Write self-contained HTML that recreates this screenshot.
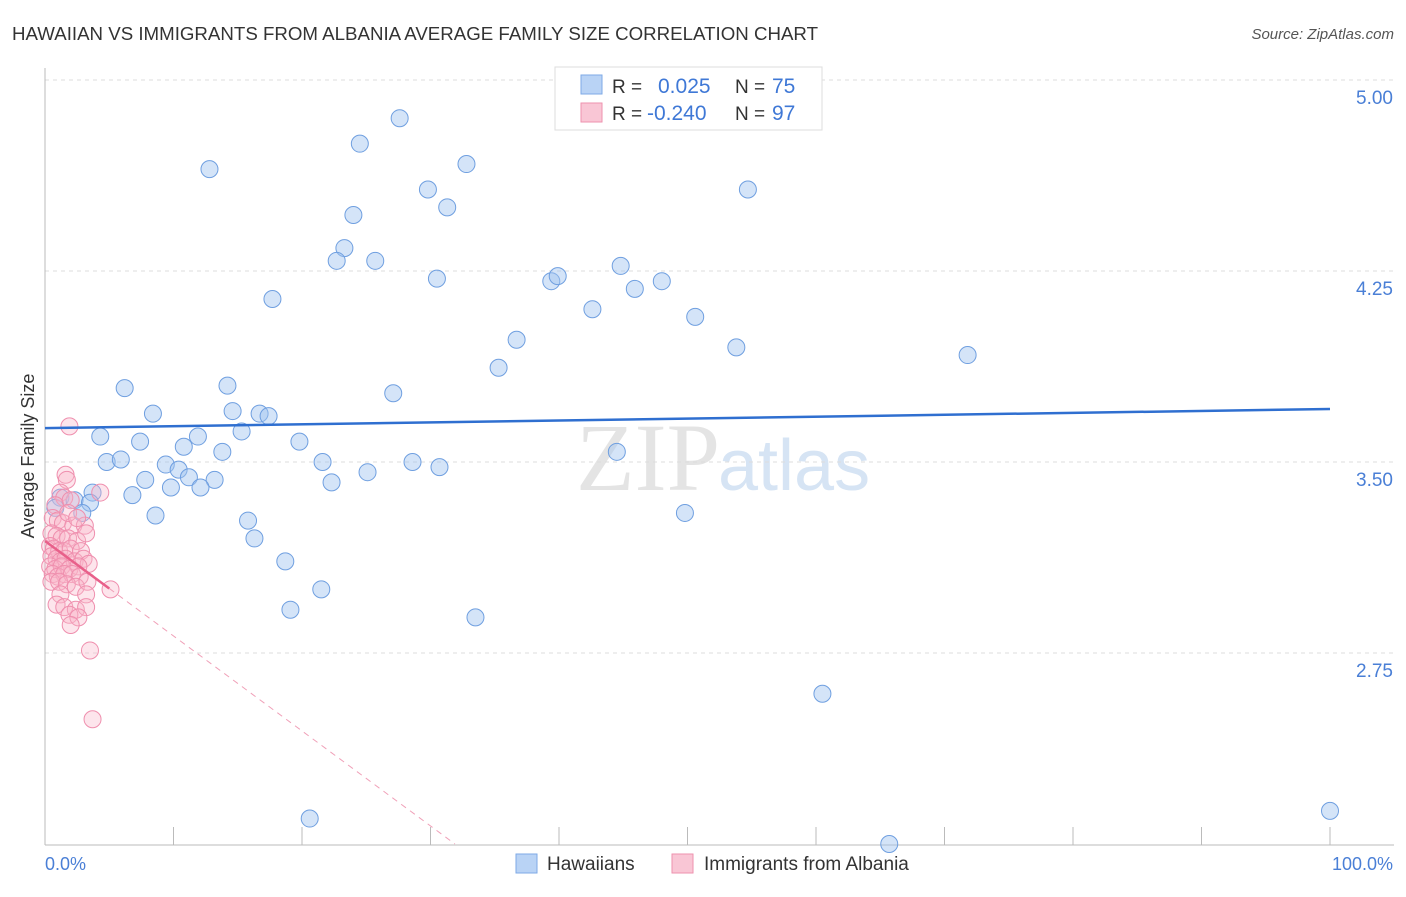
<!DOCTYPE html>
<html><head><meta charset="utf-8"><style>
body{margin:0;background:#fff;font-family:"Liberation Sans",sans-serif;}
#c{position:relative;width:1406px;height:892px;}
</style></head><body>
<div id="c">
<svg id="s" width="1406" height="892">
<text x="12" y="40" font-size="18" fill="#333" textLength="806" lengthAdjust="spacingAndGlyphs">HAWAIIAN VS IMMIGRANTS FROM ALBANIA AVERAGE FAMILY SIZE CORRELATION CHART</text>
<text x="1394" y="39" font-size="15" fill="#555" font-style="italic" text-anchor="end">Source: ZipAtlas.com</text>
<text x="720" y="490" font-size="96" fill="#e4e4e4" text-anchor="end" font-family="Liberation Serif">ZIP</text>
<text x="718" y="490" font-size="72" fill="#d6e4f4">atlas</text>
<text transform="translate(34,456) rotate(-90)" font-size="18" fill="#333" text-anchor="middle">Average Family Size</text>
<g id="grid"></g><g id="pts"></g><g id="lines"></g>
<text x="45" y="870" font-size="18" fill="#4a7fd6">0.0%</text>
<text x="1393" y="870" font-size="18" fill="#4a7fd6" text-anchor="end">100.0%</text>
<g>
<rect x="555" y="67" width="267" height="63" fill="#fff" stroke="#ddd"/>
<rect x="581" y="75" width="21" height="19" fill="#b9d3f5" stroke="#7ea9e6"/>
<rect x="581" y="103" width="21" height="19" fill="#f9c6d5" stroke="#ee92ae"/>
<text x="612" y="93" font-size="19" fill="#333">R =</text>
<text x="658" y="93" font-size="21" fill="#3f78d6">0.025</text>
<text x="735" y="93" font-size="19" fill="#333">N =</text>
<text x="772" y="93" font-size="21" fill="#3f78d6">75</text>
<text x="612" y="120" font-size="19" fill="#333">R =</text>
<text x="647" y="120" font-size="21" fill="#3f78d6">-0.240</text>
<text x="735" y="120" font-size="19" fill="#333">N =</text>
<text x="772" y="120" font-size="21" fill="#3f78d6">97</text>
</g>
<g>
<rect x="516" y="854" width="21" height="19" fill="#b9d3f5" stroke="#7ea9e6"/>
<text x="547" y="870" font-size="19" fill="#333">Hawaiians</text>
<rect x="672" y="854" width="21" height="19" fill="#f9c6d5" stroke="#ee92ae"/>
<text x="704" y="870" font-size="19" fill="#333">Immigrants from Albania</text>
</g>
</svg>
</div>
<script>
const yTicks=[5.00,4.25,3.50,2.75];
const yTickLabels=["5.00","4.25","3.50","2.75"];
const blueX=[27.6,12.8,24.5,32.8,29.8,54.7,31.3,24.0,23.3,22.7,25.7,30.5,39.4,39.9,44.8,48.0,45.9,17.7,42.6,50.6,36.7,53.8,71.8,35.3,6.2,14.2,27.1,8.4,14.6,16.7,17.4,4.3,7.4,15.3,10.8,11.9,19.8,13.8,44.5,4.8,5.9,9.4,21.6,28.6,30.7,10.4,11.2,25.1,7.8,9.8,13.2,12.1,22.3,3.7,6.8,1.2,2.3,3.5,0.8,2.9,8.6,49.8,15.8,16.3,18.7,21.5,19.1,33.5,60.5,20.6,65.7,100];
const blueY=[4.85,4.65,4.75,4.67,4.57,4.57,4.50,4.47,4.34,4.29,4.29,4.22,4.21,4.23,4.27,4.21,4.18,4.14,4.10,4.07,3.98,3.95,3.92,3.87,3.79,3.80,3.77,3.69,3.70,3.69,3.68,3.60,3.58,3.62,3.56,3.60,3.58,3.54,3.54,3.50,3.51,3.49,3.50,3.50,3.48,3.47,3.44,3.46,3.43,3.40,3.43,3.40,3.42,3.38,3.37,3.36,3.35,3.34,3.32,3.30,3.29,3.30,3.27,3.20,3.11,3.00,2.92,2.89,2.59,2.10,2.00,2.13];
const pinkX=[1.9,1.6,1.7,4.3,1.2,1.5,0.8,2.0,0.6,1.0,1.4,2.2,3.1,0.5,0.9,1.3,1.8,2.5,3.2,0.4,0.7,1.1,1.5,2.0,2.8,0.5,0.9,1.2,1.6,2.3,3.0,3.4,0.4,0.8,1.3,1.9,2.6,0.6,1.0,1.5,2.1,2.7,0.5,1.1,1.7,2.4,3.3,5.1,1.2,3.2,0.9,1.5,2.4,3.2,1.9,2.6,2.0,3.5,3.7,1.8,2.5];
const pinkY=[3.64,3.45,3.43,3.38,3.38,3.36,3.33,3.35,3.28,3.27,3.26,3.25,3.25,3.22,3.21,3.20,3.20,3.19,3.22,3.17,3.16,3.15,3.15,3.16,3.15,3.13,3.12,3.11,3.12,3.11,3.12,3.10,3.09,3.08,3.09,3.08,3.09,3.06,3.05,3.06,3.06,3.05,3.03,3.03,3.02,3.01,3.03,3.00,2.98,2.98,2.94,2.93,2.92,2.93,2.90,2.89,2.86,2.76,2.49,3.30,3.28];
const blueTrend=[3.633,3.708];
const pinkTrend=[3.19,-0.0373];
const X=v=>45+v*12.85, Y=v=>80+(5-v)*254.67;
const NS="http://www.w3.org/2000/svg";
function mk(t,a,p){const e=document.createElementNS(NS,t);for(const k in a)e.setAttribute(k,a[k]);p.appendChild(e);return e;}
const g=document.getElementById('grid');
yTicks.forEach((t,i)=>{
 const l=mk('line',{x1:45,x2:1394,y1:Y(t),y2:Y(t),stroke:'#ddd','stroke-dasharray':'4,4'},g);
 
 
 const tx=mk('text',{x:1393,y:Y(t)+24,'font-size':19,fill:'#4a7fd6','text-anchor':'end'},g);
 tx.textContent=yTickLabels[i];
 
 
});
const ax=mk('line',{x1:45,x2:1394,y1:845,y2:845,stroke:'#bbb'},g);


const ay=mk('line',{x1:45,x2:45,y1:68,y2:845,stroke:'#bbb'},g);


for(let i=1;i<=10;i++){const t=mk('line',{x1:X(i*10),x2:X(i*10),y1:827,y2:845,stroke:'#bbb'},g);
 
 }
const p=document.getElementById('pts');
blueX.forEach((x,i)=>{const c=mk('circle',{cx:X(x),cy:Y(blueY[i]),r:8.5,fill:'rgba(160,195,240,0.45)',stroke:'#6f9fe0','stroke-width':1},p);
 
 });
pinkX.forEach((x,i)=>{const c=mk('circle',{cx:X(x),cy:Y(pinkY[i]),r:8.5,fill:'rgba(248,180,200,0.35)',stroke:'#ef8fae','stroke-width':1},p);
 
 });
const L=document.getElementById('lines');
const bl=mk('line',{x1:X(0),y1:Y(blueTrend[0]),x2:X(100),y2:Y(blueTrend[1]),stroke:'#2f6fd0','stroke-width':2.5},L);


const pe=(2.0-pinkTrend[0])/pinkTrend[1];
const pl=mk('line',{x1:X(0),y1:Y(pinkTrend[0]),x2:X(5),y2:Y(pinkTrend[0]+5*pinkTrend[1]),stroke:'#e8608a','stroke-width':2.5},L);


const pd=mk('line',{x1:X(5),y1:Y(pinkTrend[0]+5*pinkTrend[1]),x2:X(pe),y2:Y(2.0),stroke:'#f0a0b8','stroke-width':1,'stroke-dasharray':'6,5'},L);


</script>
</body></html>
